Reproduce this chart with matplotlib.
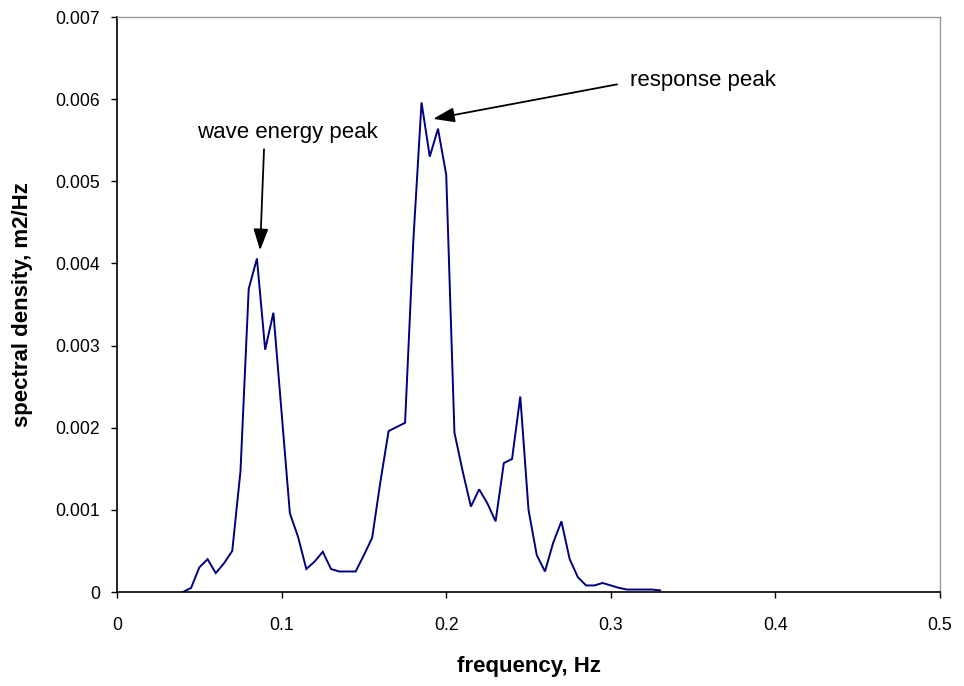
import matplotlib
matplotlib.use("Agg")
import matplotlib.pyplot as plt
from matplotlib.ticker import FuncFormatter

plt.rcParams['font.family'] = ['Liberation Sans', 'DejaVu Sans']

# Spectral density of the measured motion
frequency = [0.040, 0.045, 0.050, 0.055, 0.060, 0.065, 0.070, 0.075, 0.080, 0.085,
             0.090, 0.095, 0.105, 0.110, 0.115, 0.120, 0.125, 0.130, 0.135, 0.140,
             0.145, 0.150, 0.155, 0.160, 0.165, 0.175, 0.180, 0.185, 0.190, 0.195,
             0.200, 0.205, 0.210, 0.215, 0.220, 0.225, 0.230, 0.235, 0.240, 0.245,
             0.250, 0.255, 0.260, 0.265, 0.270, 0.275, 0.280, 0.285, 0.290, 0.295,
             0.300, 0.305, 0.310, 0.315, 0.320, 0.325, 0.330]
density = [0.00000, 0.00005, 0.00030, 0.00040, 0.00023, 0.00035, 0.00050, 0.00147, 0.00369, 0.00406,
           0.00295, 0.00340, 0.00096, 0.00067, 0.00028, 0.00037, 0.00049, 0.00028, 0.00025, 0.00025,
           0.00025, 0.00045, 0.00066, 0.00134, 0.00196, 0.00206, 0.00427, 0.00596, 0.00530, 0.00564,
           0.00508, 0.00194, 0.00147, 0.00104, 0.00125, 0.00108, 0.00086, 0.00157, 0.00162, 0.00238,
           0.00100, 0.00045, 0.00025, 0.00060, 0.00086, 0.00040, 0.00018, 0.00008, 0.00008, 0.00011,
           0.00008, 0.00005, 0.00003, 0.00003, 0.00003, 0.00003, 0.00002]

x_ticks = [0, 0.1, 0.2, 0.3, 0.4, 0.5]
y_ticks = [0, 0.001, 0.002, 0.003, 0.004, 0.005, 0.006, 0.007]

fig = plt.figure(figsize=(9.64, 6.86), dpi=100)
ax = fig.add_axes([0.1214, 0.137, 0.8537, 0.8382])

ax.plot(frequency, density, color='#000080', linewidth=1.4, solid_joinstyle='miter')

ax.set_xlim(0, 0.5)
ax.set_ylim(0, 0.007)
ax.set_xticks(x_ticks)
ax.set_yticks(y_ticks)
ax.xaxis.set_major_formatter(FuncFormatter(lambda v, p: '0' if v == 0 else f'{v:g}'))
ax.yaxis.set_major_formatter(FuncFormatter(lambda v, p: '0' if v == 0 else f'{v:.3f}'))

ax.tick_params(axis='both', direction='out', length=4, width=1, labelsize=12.7, color='black')
ax.tick_params(axis='x', pad=14)
ax.tick_params(axis='y', pad=8)

for side in ('left', 'bottom'):
    ax.spines[side].set_color('black')
    ax.spines[side].set_linewidth(1.2)
for side in ('top', 'right'):
    ax.spines[side].set_color('#999999')
    ax.spines[side].set_linewidth(1.0)

ax.set_xlabel('frequency, Hz', fontsize=16, fontweight='bold', labelpad=16)
ax.set_ylabel('spectral density, m2/Hz', fontsize=16, fontweight='bold', labelpad=16)

arrow_style = dict(arrowstyle='-|>,head_length=1.3,head_width=0.45', color='black',
                   linewidth=1.3, shrinkA=0, shrinkB=0)

ax.text(0.1033, 0.00559, 'wave energy peak', ha='center', va='center', fontsize=16)
ax.annotate('', xy=(0.0869, 0.00416), xytext=(0.0893, 0.00539), arrowprops=arrow_style)

ax.text(0.3117, 0.00623, 'response peak', ha='left', va='center', fontsize=16)
ax.annotate('', xy=(0.1920, 0.00576), xytext=(0.3038, 0.00618), arrowprops=arrow_style)

fig.savefig('out.png', dpi=100)
